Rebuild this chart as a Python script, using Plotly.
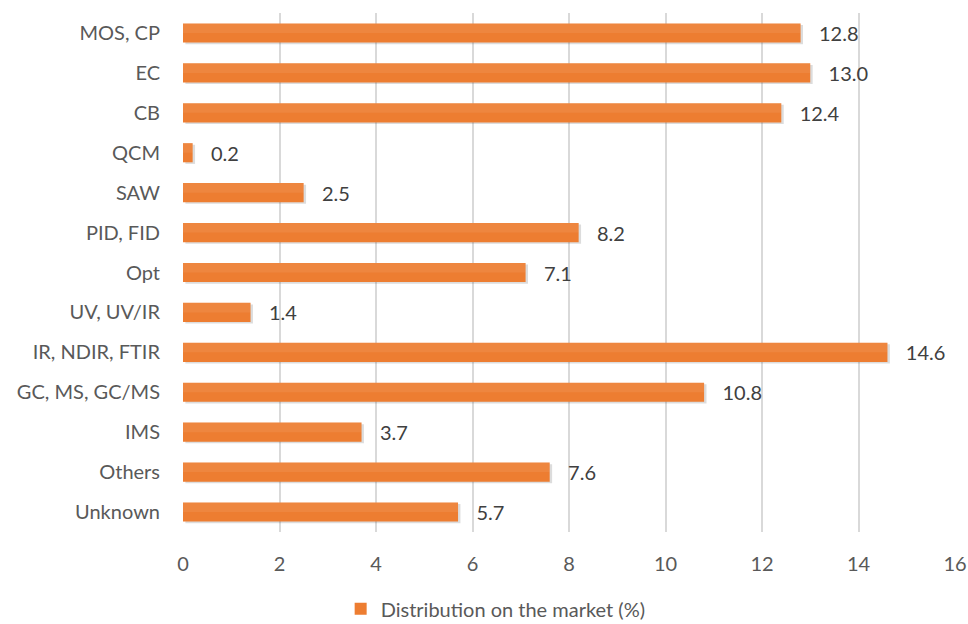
import plotly.graph_objects as go

categories = ["MOS, CP", "EC", "CB", "QCM", "SAW", "PID, FID", "Opt", "UV, UV/IR",
              "IR, NDIR, FTIR", "GC, MS, GC/MS", "IMS", "Others", "Unknown"]
share = [12.8, 13.0, 12.4, 0.2, 2.5, 8.2, 7.1, 1.4, 14.6, 10.8, 3.7, 7.6, 5.7]
x_ticks = [0, 2, 4, 6, 8, 10, 12, 14, 16]

FONT = "Lato"
ORANGE = "#ED7D31"
SIZE = 20

fig = go.Figure()

# soft drop shadow under each bar
fig.add_trace(go.Bar(
    y=categories, x=share, orientation="h",
    marker=dict(color="rgba(80,80,80,0.20)", line=dict(width=0)),
    width=0.48, offset=-0.28, base=0.05,
    hoverinfo="skip", showlegend=False,
))

fig.add_trace(go.Bar(
    y=categories, x=share, orientation="h",
    name="Distribution on the market (%)",
    marker=dict(color=ORANGE, line=dict(width=0)),
    width=0.48, offset=-0.24,
    text=[f"{v:.1f}" for v in share], textposition="outside",
    texttemplate="   %{text}", constraintext="none",
    textfont=dict(family=FONT, size=SIZE, color="#404040"),
    cliponaxis=False,
))

# lighter upper band for a slight top-to-bottom shading
fig.add_trace(go.Bar(
    y=categories, x=share, orientation="h",
    marker=dict(color="rgba(255,255,255,0.07)", line=dict(width=0)),
    width=0.24, offset=0.0,
    hoverinfo="skip", showlegend=False,
))

fig.update_layout(
    width=968, height=624,
    margin=dict(l=183, r=13, t=13, b=92, autoexpand=False),
    paper_bgcolor="white", plot_bgcolor="white",
    barmode="overlay",
    font=dict(family=FONT, size=SIZE, color="#595959"),
    showlegend=True,
    legend=dict(orientation="h", x=0.405, xanchor="center", y=-0.148, yanchor="middle",
                font=dict(family=FONT, size=SIZE, color="#595959"),
                itemwidth=30),
    xaxis=dict(range=[0, 16], tickvals=x_ticks, showgrid=True, gridcolor="#D9D9D9",
               gridwidth=1.5, zeroline=False, showline=False, ticks="",
               ticklabelstandoff=18, automargin=False,
               tickfont=dict(family=FONT, size=SIZE, color="#595959"),
               fixedrange=True),
    yaxis=dict(categoryorder="array", categoryarray=categories[::-1],
               showgrid=False, zeroline=False, showline=False, ticks="",
               ticklabelstandoff=22, automargin=False,
               tickfont=dict(family=FONT, size=SIZE, color="#595959"),
               fixedrange=True),
)

fig.write_html("out.html")
